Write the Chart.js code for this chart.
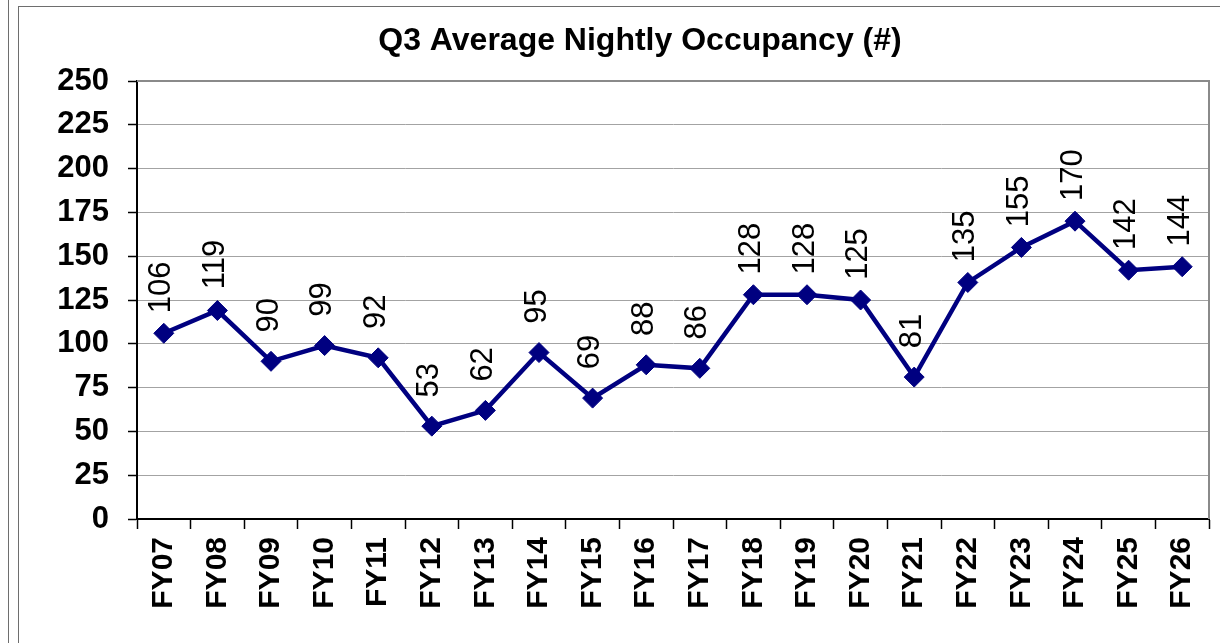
<!DOCTYPE html>
<html>
<head>
<meta charset="utf-8">
<script src="https://cdn.jsdelivr.net/npm/chart.js@4/dist/chart.umd.min.js"></script>
<style>
    html, body { margin: 0; padding: 0; background: #fff; overflow: hidden; }
    #wrap { position: relative; width: 1220px; height: 643px; }
    #myChart { position: absolute; left: 0; top: 0; }
    .edge1 { position: absolute; left: 8px; top: 0; width: 1px; height: 643px; background: #6e6e6e; }
    .edge2 { position: absolute; left: 18px; top: 6px; right: 0; height: 660px; border-left: 1px solid #6e6e6e; border-top: 1px solid #6e6e6e; }
</style>
</head>
<body>
<div id="wrap">
    <div class="edge1"></div>
    <div class="edge2"></div>
    <canvas id="myChart" width="1220" height="643"></canvas>
</div>
<script>
const categories = ['FY07', 'FY08', 'FY09', 'FY10', 'FY11', 'FY12', 'FY13', 'FY14', 'FY15', 'FY16',
                    'FY17', 'FY18', 'FY19', 'FY20', 'FY21', 'FY22', 'FY23', 'FY24', 'FY25', 'FY26'];
const occupancy = [106, 119, 90, 99, 92, 53, 62, 95, 69, 88,
                   86, 128, 128, 125, 81, 135, 155, 170, 142, 144];
const yMin = 0;
const yMax = 250;
const yStep = 25;

Chart.defaults.font.family = "'Liberation Sans', Arial, sans-serif";
Chart.defaults.color = '#000';

// etiketten boven de punten, gedraaid
const pointLabels = {
    id: 'pointLabels',
    afterDatasetsDraw(chart) {
        const ctx = chart.ctx;
        const meta = chart.getDatasetMeta(0);
        ctx.save();
        ctx.fillStyle = '#000';
        ctx.font = "31px 'Liberation Sans', Arial, sans-serif";
        ctx.textAlign = 'center';
        ctx.textBaseline = 'middle';
        meta.data.forEach(function (pt, i) {
            ctx.save();
            ctx.translate(pt.x - 2, pt.y - 46);
            ctx.rotate(-Math.PI / 2);
            ctx.fillText(String(occupancy[i]), 0, 0);
            ctx.restore();
        });
        ctx.restore();
    }
};

// grijze rand rechts van het plotgebied + titel centreren
const plotFrame = {
    id: 'plotFrame',
    afterLayout(chart) {
        if (chart.titleBlock) {
            chart.titleBlock.left = 60;
            chart.titleBlock.right = 1220;
        }
    },
    beforeDatasetsDraw(chart) {
        const a = chart.chartArea;
        const ctx = chart.ctx;
        ctx.save();
        ctx.strokeStyle = '#8a8a8a';
        ctx.lineWidth = 2;
        ctx.beginPath();
        ctx.moveTo(a.left, a.top);
        ctx.lineTo(a.right, a.top);
        ctx.lineTo(a.right, a.bottom);
        ctx.stroke();
        ctx.restore();
    }
};

let ctx = document.getElementById('myChart').getContext('2d');
let chart = new Chart(ctx, {
    type: 'line',
    data: {
        labels: categories,
        datasets: [{
            label: 'Q3 Average Nightly Occupancy',
            data: occupancy,
            borderColor: '#000080',
            backgroundColor: '#000080',
            borderWidth: 4.5,
            tension: 0,
            fill: false,
            pointStyle: 'rectRot',
            pointRadius: 10,
            pointHoverRadius: 10,
            pointBackgroundColor: '#000080',
            pointBorderColor: '#000080',
            pointBorderWidth: 1
        }]
    },
    options: {
        responsive: false,
        animation: false,
        events: [],
        layout: { padding: { left: 0, right: 0, top: 0, bottom: 0 } },
        plugins: {
            legend: { display: false },
            tooltip: { enabled: false },
            title: {
                display: true,
                text: 'Q3 Average Nightly Occupancy (#)',
                color: '#000',
                font: { size: 32, weight: 'bold' },
                padding: { top: 22, bottom: 20.6 }
            }
        },
        scales: {
            x: {
                offset: true,
                grid: {
                    offset: true,
                    drawOnChartArea: false,
                    drawTicks: true,
                    tickLength: 10,
                    tickColor: '#000',
                    tickWidth: 1.5
                },
                border: { color: '#000', width: 2 },
                ticks: {
                    autoSkip: false,
                    minRotation: 90,
                    maxRotation: 90,
                    padding: 8,
                    font: { size: 30, weight: 'bold' }
                },
                afterFit(scale) {
                    scale.height = 124;
                    scale.paddingRight = 9;
                }
            },
            y: {
                min: yMin,
                max: yMax,
                grid: {
                    color: '#a3a3a3',
                    lineWidth: 1,
                    tickLength: 9,
                    tickColor: '#000',
                    tickWidth: 1.5
                },
                border: { color: '#000', width: 2 },
                ticks: {
                    stepSize: yStep,
                    padding: 19,
                    font: { size: 31, weight: 'bold' }
                },
                afterFit(scale) { scale.width = 137; }
            }
        }
    },
    plugins: [pointLabels, plotFrame]
});
</script>
</body>
</html>
